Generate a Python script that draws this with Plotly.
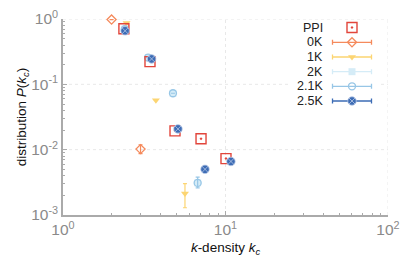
import plotly.graph_objects as go

# ---------------- data ----------------
ppi_k = [2.37, 3.43, 4.89, 7.07, 10.07]
ppi_p = [0.71, 0.223, 0.0194, 0.0147, 0.0073]

k0_k = [1.99, 3.0]
k0_p = [0.98, 0.0102]
k0_err_plus = [0.0, 0.0017]
k0_err_minus = [0.0, 0.0015]

k1_k = [2.46, 3.73, 5.63]
k1_p = [0.87, 0.057, 0.00213]
k1_err_plus = [0.0, 0.0, 0.0009]
k1_err_minus = [0.0, 0.0, 0.00084]

k2_k = [2.40, 3.35, 4.75, 6.74]
k2_p = [0.70, 0.257, 0.073, 0.0031]

k21_k = [2.40, 3.34, 4.75, 6.74]
k21_p = [0.70, 0.257, 0.073, 0.0031]
k21_err_plus = [0.0, 0.0, 0.0, 0.0007]
k21_err_minus = [0.0, 0.0, 0.0, 0.0005]

k25_k = [2.41, 3.51, 5.1, 7.48, 10.8]
k25_p = [0.66, 0.245, 0.0208, 0.0050, 0.0066]

legend_labels = ["PPI", "0K", "1K", "2K", "2.1K", "2.5K"]
x_ticks = [1, 10, 100]
x_ticktext = ["10<sup>0</sup>", "10<sup>1</sup>", "10<sup>2</sup>"]
y_ticks = [0.001, 0.01, 0.1, 1]
y_ticktext = ["10<sup>-3</sup>", "10<sup>-2</sup>", "10<sup>-1</sup>", "10<sup>0</sup>"]
x_minor = [2, 3, 4, 5, 6, 7, 8, 9, 20, 30, 40, 50, 60, 70, 80, 90]
y_minor = [0.002, 0.003, 0.004, 0.005, 0.006, 0.007, 0.008, 0.009,
           0.02, 0.03, 0.04, 0.05, 0.06, 0.07, 0.08, 0.09,
           0.2, 0.3, 0.4, 0.5, 0.6, 0.7, 0.8, 0.9]

# ---------------- styles ----------------
C_PPI = "#e2453b"
C_0K = "#f58a5c"
C_1K = "#fcd572"
C_2K = "#d5ecf7"
C_21K = "#97c6e6"
C_25K = "#3d6cb5"
GRID = "#e8e8e8"

fig = go.Figure()

fig.add_trace(go.Scatter(x=k0_k, y=k0_p, mode="markers",
    marker=dict(symbol="diamond-open", size=7, color=C_0K, line=dict(width=1.3)),
    error_y=dict(type="data", array=k0_err_plus, arrayminus=k0_err_minus,
                 color=C_0K, thickness=1.2, width=2),
    showlegend=False, cliponaxis=False))
fig.add_trace(go.Scatter(x=k1_k, y=k1_p, mode="markers",
    marker=dict(symbol="triangle-down", size=7, color=C_1K),
    error_y=dict(type="data", array=k1_err_plus, arrayminus=k1_err_minus,
                 color=C_1K, thickness=1.2, width=2),
    showlegend=False, cliponaxis=False))
fig.add_trace(go.Scatter(x=k2_k, y=k2_p, mode="markers",
    marker=dict(symbol="square", size=7, color=C_2K),
    showlegend=False, cliponaxis=False))
fig.add_trace(go.Scatter(x=k21_k, y=k21_p, mode="markers",
    marker=dict(symbol="circle-open", size=7, color=C_21K, line=dict(width=1.3)),
    error_y=dict(type="data", array=k21_err_plus, arrayminus=k21_err_minus,
                 color=C_21K, thickness=1.2, width=2),
    showlegend=False, cliponaxis=False))
fig.add_trace(go.Scatter(x=ppi_k, y=ppi_p, mode="markers",
    marker=dict(symbol="square-open-dot", size=10, color=C_PPI, line=dict(width=1.4)),
    showlegend=False, cliponaxis=False))
fig.add_trace(go.Scatter(x=k25_k, y=k25_p, mode="markers",
    marker=dict(symbol="circle-x", size=8.5, color=C_25K,
                line=dict(width=0.8, color="#b9c9e6")),
    showlegend=False, cliponaxis=False))

# ---------------- grid as dashed shapes ----------------
for v in x_ticks[1:]:
    fig.add_shape(type="line", xref="x", yref="y domain", x0=v, x1=v, y0=0, y1=1,
                  line=dict(color=GRID, width=1, dash="3px,3px"), layer="below")
for v in y_ticks[1:]:
    fig.add_shape(type="line", xref="x domain", yref="y", x0=0, x1=1, y0=v, y1=v,
                  line=dict(color=GRID, width=1, dash="3px,3px"), layer="below")

# white legend background over the grid
fig.add_shape(type="rect", xref="x domain", yref="y domain",
              x0=0.695, x1=0.975, y0=0.53, y1=0.995,
              fillcolor="white", line=dict(width=0), layer="below")

# ---------------- custom legend (overlay axes in plot-pixel units) ----------------
leg_rows = [27.5, 42.3, 57, 71.7, 86.3, 101]
leg_styles = [
    dict(symbol="square-open-dot", size=10, color=C_PPI, line=dict(width=1.4), bar=None),
    dict(symbol="diamond-open", size=7, color=C_0K, line=dict(width=1.3), bar=C_0K),
    dict(symbol="triangle-down", size=7, color=C_1K, line=dict(width=0), bar=C_1K),
    dict(symbol="square", size=7, color=C_2K, line=dict(width=0), bar=C_2K),
    dict(symbol="circle-open", size=7, color=C_21K, line=dict(width=1.3), bar=C_21K),
    dict(symbol="circle-x", size=8.5, color=C_25K, line=dict(width=0.8, color="#b9c9e6"), bar=C_25K),
]
for lab, yy, st in zip(legend_labels, leg_rows, leg_styles):
    bar = st.pop("bar")
    kw = {}
    if bar:
        kw["error_x"] = dict(type="constant", value=19.5, color=bar, thickness=1.3, width=2.5)
    fig.add_trace(go.Scatter(x=[352], y=[yy], xaxis="x2", yaxis="y2", mode="markers",
                             marker=st, showlegend=False, hoverinfo="skip",
                             cliponaxis=False, **kw))
    fig.add_annotation(x=325, y=yy, xref="x2", yref="y2", text=lab, showarrow=False,
                       xanchor="right", yanchor="middle",
                       font=dict(size=12.5, color="#222", family="Liberation Sans, Arial"))

axis_common = dict(
    type="log", showline=True, linecolor="#aaaaaa", linewidth=1.5,
    ticks="inside", ticklen=4, tickcolor="#aaaaaa", tickwidth=1,
    showgrid=False, zeroline=False, mirror=False, automargin=False,
    ticklabeloverflow="allow",
    tickfont=dict(size=15.5, color="#8a8a8a", family="Liberation Sans, Arial"),
)

# the page body adds an 8px offset, so margins are shifted by 8px
fig.update_layout(
    width=415, height=277, autosize=False,
    margin=dict(l=55, r=35, t=11, b=70, autoexpand=False),
    paper_bgcolor="white", plot_bgcolor="white",
    font=dict(family="Liberation Sans, Arial", color="#111"),
    xaxis=dict(axis_common, range=[0, 2], tickvals=x_ticks, ticktext=x_ticktext,
               title=dict(text="<i>k</i>-density <i>k<sub>c</sub></i>",
                          font=dict(size=13.5, color="#111"), standoff=5),
               minor=dict(ticks="inside", ticklen=2.5, tickcolor="#aaaaaa",
                          showgrid=False, tickvals=x_minor)),
    yaxis=dict(axis_common, range=[-3, 0], tickvals=y_ticks, ticktext=y_ticktext,
               title=dict(text="distribution <i>P</i>(<i>k<sub>c</sub></i>)",
                          font=dict(size=13.5, color="#111"), standoff=1),
               minor=dict(ticks="inside", ticklen=2.5, tickcolor="#aaaaaa",
                          showgrid=False, tickvals=y_minor)),
    xaxis2=dict(overlaying="x", range=[63, 388], visible=False, anchor="y2"),
    yaxis2=dict(overlaying="y", range=[215, 19], visible=False, anchor="x2"),
)

fig.write_html("out.html")
